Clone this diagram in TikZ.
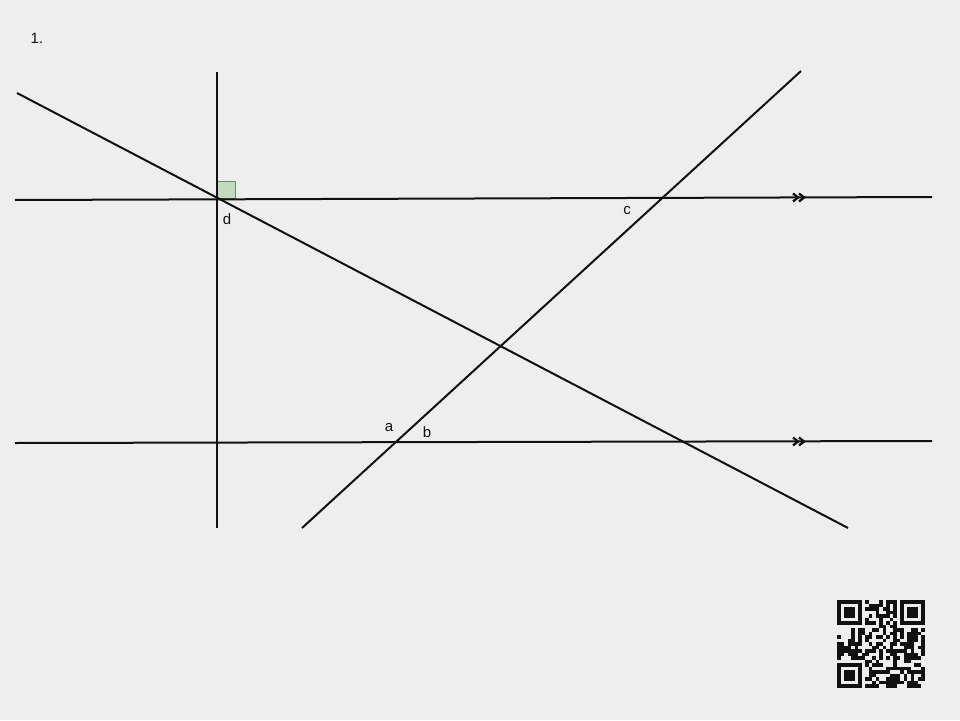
\documentclass[tikz,border=0pt]{standalone}
\usepackage{fontspec}
\setmainfont{Liberation Sans}
\definecolor{bg}{RGB}{238,238,238}
\definecolor{ink}{RGB}{17,17,17}
\definecolor{boxfill}{RGB}{196,218,190}
\definecolor{boxline}{RGB}{90,150,90}
\begin{document}
\begin{tikzpicture}[x=1pt,y=-1pt,
  geoline/.style={draw=ink,line width=2pt},
  lbl/.style={font=\fontsize{15}{17}\selectfont,text=ink,inner sep=0pt},
  chev/.style={draw=ink,line width=2.3pt},
  qr/.style={fill=ink}]
\fill[bg] (0,0) rectangle (960,720);
\useasboundingbox (0,0) rectangle (960,720);

% coordinates
\coordinate (vT) at (217,72);
\coordinate (vB) at (217,528);
\coordinate (h1L) at (15,200);
\coordinate (h1R) at (932,197);
\coordinate (h2L) at (15,443);
\coordinate (h2R) at (932,441);
\coordinate (dA) at (17,93);
\coordinate (dB) at (848,528);
\coordinate (uA) at (302,528);
\coordinate (uB) at (801,71);

% right angle box
\filldraw[fill=boxfill,draw=boxline,line width=0.8pt] (217.5,181) rectangle (235,198);

% lines
\draw[geoline] (vT) -- (vB);
\draw[geoline] (h1L) -- (h1R);
\draw[geoline] (h2L) -- (h2R);
\draw[geoline] (dA) -- (dB);
\draw[geoline] (uA) -- (uB);

% parallel marks
\foreach \y in {197.5,441.5}{
  \draw[chev] (793,\y-4) -- (798,\y) -- (793,\y+4);
  \draw[chev] (799,\y-4) -- (804,\y) -- (799,\y+4);
}

% labels
\node[lbl] (n1) at (37,38) {1.};
\node[lbl] (ld) at (227,219) {d};
\node[lbl] (lc) at (627,211) {c};
\node[lbl] (la) at (389,428) {a};
\node[lbl] (lb) at (427,432) {b};

% QR code (approximation)
\pgfmathsetseed{7}
\def\qs{3.52}
\foreach \i in {0,...,24}{
  \foreach \j in {0,...,24}{
    \pgfmathtruncatemacro{\keep}{(rnd<0.55) && !((\i<8 && \j<8) || (\i>16 && \j<8) || (\i<8 && \j>16))}
    \ifnum\keep=1
      \fill[qr] (837+\i*\qs,600+\j*\qs) rectangle ++(\qs,\qs);
    \fi
  }
}
\foreach \ox/\oy in {0/0,18/0,0/18}{
  \fill[qr] (837+\ox*\qs,600+\oy*\qs) rectangle ++(7*\qs,7*\qs);
  \fill[bg] (837+\ox*\qs+\qs,600+\oy*\qs+\qs) rectangle ++(5*\qs,5*\qs);
  \fill[qr] (837+\ox*\qs+2*\qs,600+\oy*\qs+2*\qs) rectangle ++(3*\qs,3*\qs);
}
\end{tikzpicture}
\end{document}
